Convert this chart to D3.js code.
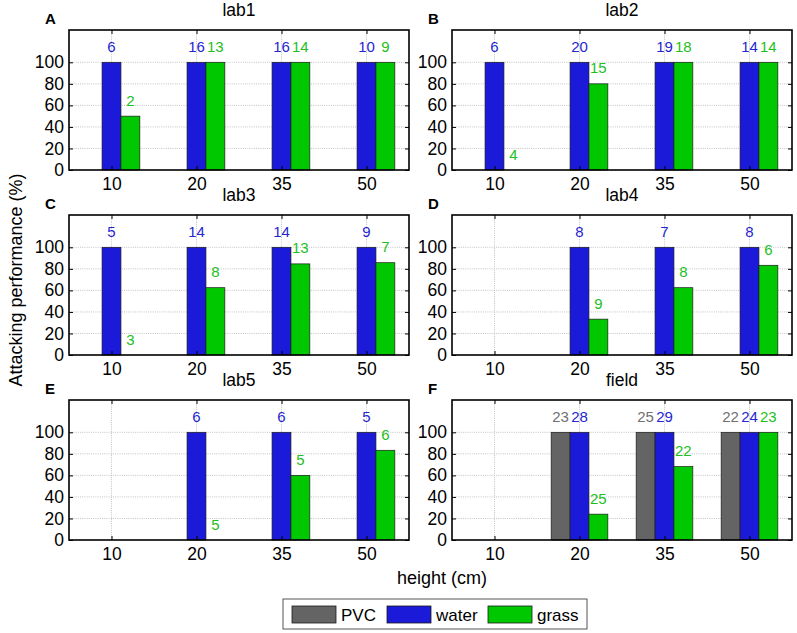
<!DOCTYPE html>
<html>
<head>
<meta charset="utf-8">
<script src="https://cdn.jsdelivr.net/npm/d3@7"></script>
<style>
  html, body { margin: 0; padding: 0; background: #fff; }
  svg { display: block; font-family: "Liberation Sans", Arial, sans-serif; }
</style>
</head>
<body>
<svg id="chart" width="797" height="633"></svg>
<script>
// ---- data ----
const heights = ["10", "20", "35", "50"];
const panelLetters = ["A", "B", "C", "D", "E", "F"];
const panelTitles = ["lab1", "lab2", "lab3", "lab4", "lab5", "field"];
const seriesNames = ["PVC", "water", "grass"];
const yTicks = [0, 20, 40, 60, 80, 100];

// performance (%) per panel, per height (null = not tested)
const pvcPerf = [
  [null, null, null, null],
  [null, null, null, null],
  [null, null, null, null],
  [null, null, null, null],
  [null, null, null, null],
  [null, 100, 100, 100]
];
const waterPerf = [
  [100, 100, 100, 100],
  [100, 100, 100, 100],
  [100, 100, 100, 100],
  [null, 100, 100, 100],
  [null, 100, 100, 100],
  [null, 100, 100, 100]
];
const grassPerf = [
  [50, 100, 100, 100],
  [0, 80, 100, 100],
  [0, 62.5, 84.6, 85.7],
  [null, 33.3, 62.5, 83.3],
  [null, 0, 60, 83.3],
  [null, 24, 68.2, 100]
];
// sample sizes shown above bars
const pvcN = [
  [null, null, null, null],
  [null, null, null, null],
  [null, null, null, null],
  [null, null, null, null],
  [null, null, null, null],
  [null, 23, 25, 22]
];
const waterN = [
  [6, 16, 16, 10],
  [6, 20, 19, 14],
  [5, 14, 14, 9],
  [null, 8, 7, 8],
  [null, 6, 6, 5],
  [null, 28, 29, 24]
];
const grassN = [
  [2, 13, 14, 9],
  [4, 15, 18, 14],
  [3, 8, 13, 7],
  [null, 9, 8, 6],
  [null, 5, 5, 6],
  [null, 25, 22, 23]
];

// ---- styles ----
const barColors = { PVC: "#646464", water: "#1a1ad8", grass: "#00c800" };
const textColors = { PVC: "#707070", water: "#2626d0", grass: "#1ec01e" };
const perfBySeries = { PVC: pvcPerf, water: waterPerf, grass: grassPerf };
const nBySeries = { PVC: pvcN, water: waterN, grass: grassN };

const svg = d3.select("#chart");
const W = 340, H = 140;
const lefts = [69, 452];
const tops = [30, 215, 400];

const x = d3.scaleLinear().domain([0.5, 4.5]).range([0, W]);
const y = d3.scaleLinear().domain([0, 130]).range([H, 0]);
const sub = d3.scaleBand().domain(seriesNames).range([-85 / 3, 85 / 3]).padding(0);

panelTitles.forEach((title, p) => {
  const col = p % 2, row = Math.floor(p / 2);
  const g = svg.append("g").attr("transform", `translate(${lefts[col]},${tops[row]})`);

  // grid
  const grid = g.append("g").attr("stroke", "#b4b4b4").attr("stroke-width", 0.8)
    .attr("stroke-dasharray", "1,1.2");
  grid.selectAll("line.h").data(yTicks.slice(1)).join("line")
    .attr("x1", 0).attr("x2", W).attr("y1", d => y(d)).attr("y2", d => y(d));
  grid.selectAll("line.v").data(heights).join("line")
    .attr("x1", (d, i) => x(i + 1)).attr("x2", (d, i) => x(i + 1))
    .attr("y1", 0).attr("y2", H);

  // bars
  seriesNames.forEach(s => {
    const vals = perfBySeries[s][p];
    const data = vals.map((v, i) => ({ v, i })).filter(d => d.v !== null && d.v > 0);
    g.selectAll(null).data(data).join("rect")
      .attr("x", d => x(d.i + 1) + sub(s))
      .attr("y", d => y(d.v))
      .attr("width", sub.bandwidth())
      .attr("height", d => y(0) - y(d.v))
      .attr("fill", barColors[s])
      .attr("stroke", "#1a1a1a").attr("stroke-width", 0.7);
  });

  // count labels
  seriesNames.forEach(s => {
    const vals = perfBySeries[s][p];
    const ns = nBySeries[s][p];
    const data = ns.map((n, i) => ({ n, v: vals[i], i })).filter(d => d.n !== null);
    g.selectAll(null).data(data).join("text")
      .attr("x", d => x(d.i + 1) + sub(s) + sub.bandwidth() / 2)
      .attr("y", d => y(d.v) - 10.5)
      .attr("text-anchor", "middle")
      .attr("font-size", 15)
      .attr("fill", textColors[s])
      .text(d => d.n);
  });

  // axes
  const yAxis = d3.axisLeft(y).tickValues(yTicks).tickSize(-4).tickPadding(5);
  const yAxisR = d3.axisRight(y).tickValues(yTicks).tickSize(-4).tickFormat("");
  const xAxis = d3.axisBottom(x).tickValues([1, 2, 3, 4]).tickSize(-4).tickPadding(8)
    .tickFormat((d) => heights[d - 1]);
  const xAxisT = d3.axisTop(x).tickValues([1, 2, 3, 4]).tickSize(-4).tickFormat("");

  const styleAxis = sel => {
    sel.select(".domain").remove();
    sel.selectAll("line").attr("stroke", "#000").attr("stroke-width", 1);
    sel.selectAll("text").attr("font-size", 17.5).attr("fill", "#000")
      .attr("font-family", "Liberation Sans, Arial, sans-serif");
  };
  g.append("g").call(yAxis).call(styleAxis);
  g.append("g").attr("transform", `translate(${W},0)`).call(yAxisR).call(styleAxis);
  g.append("g").attr("transform", `translate(0,${H})`).call(xAxis).call(styleAxis);
  g.append("g").call(xAxisT).call(styleAxis);

  // box
  g.append("rect").attr("x", 0).attr("y", 0).attr("width", W).attr("height", H)
    .attr("fill", "none").attr("stroke", "#000").attr("stroke-width", 1.6);

  // title and panel letter
  g.append("text").attr("x", W / 2).attr("y", -14).attr("text-anchor", "middle")
    .attr("font-size", 17.5).text(title);
  g.append("text").attr("x", -24).attr("y", -6).attr("font-size", 15)
    .attr("font-weight", "bold").text(panelLetters[p]);
});

// axis labels
svg.append("text")
  .attr("transform", "translate(22,280) rotate(-90)")
  .attr("text-anchor", "middle").attr("font-size", 18)
  .text("Attacking performance (%)");
svg.append("text").attr("x", 442).attr("y", 584).attr("text-anchor", "middle")
  .attr("font-size", 18).text("height (cm)");

// legend
const lg = svg.append("g").attr("transform", "translate(283,599)");
lg.append("rect").attr("x", 0).attr("y", 0).attr("width", 304).attr("height", 30)
  .attr("fill", "#fff").attr("stroke", "#555").attr("stroke-width", 1);
const legendX = [9, 104, 205];
seriesNames.forEach((s, i) => {
  lg.append("rect").attr("x", legendX[i]).attr("y", 7).attr("width", 44).attr("height", 17)
    .attr("fill", barColors[s]).attr("stroke", "#1a1a1a").attr("stroke-width", 0.8);
  lg.append("text").attr("x", legendX[i] + 49).attr("y", 21.5).attr("font-size", 17)
    .text(s);
});
</script>
</body>
</html>
